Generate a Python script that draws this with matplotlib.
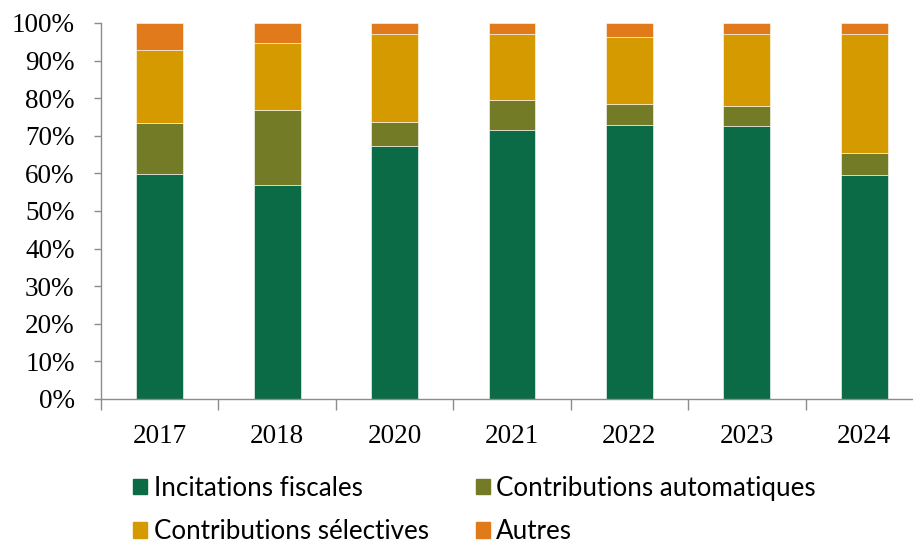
import numpy as np
import matplotlib.pyplot as plt
from matplotlib.patches import Patch
from matplotlib.ticker import FixedLocator, PercentFormatter

# Parts of total (%)
years = ["2017", "2018", "2020", "2021", "2022", "2023", "2024"]
incitations = [59.8, 56.8, 67.2, 71.6, 73.0, 72.5, 59.5]
contrib_auto = [13.5, 20.0, 6.4, 7.8, 5.4, 5.5, 5.8]
contrib_select = [19.5, 17.8, 23.5, 17.6, 18.0, 19.0, 31.7]
autres = [7.2, 5.4, 2.9, 3.0, 3.6, 3.0, 3.0]

labels = ["Incitations fiscales", "Contributions automatiques",
          "Contributions sélectives", "Autres"]
colors = ["#0b6b47", "#737b27", "#d49a00", "#e07a1b"]
series = [incitations, contrib_auto, contrib_select, autres]


def main():
    fig = plt.figure(figsize=(9.13, 5.45), dpi=100)
    ax = fig.add_axes([101 / 913, 146 / 545, 822 / 913, 376 / 545])

    x = np.arange(len(years))
    bottom = np.zeros(len(years))
    for values, color in zip(series, colors):
        ax.bar(x, values, width=0.4, bottom=bottom, color=color,
               edgecolor="white", linewidth=0.4)
        bottom += np.array(values)

    ax.set_xlim(-0.5, len(years) - 0.5)
    ax.set_ylim(0, 100)

    serif = "Liberation Serif"
    ax.set_yticks(np.arange(0, 101, 10))
    ax.yaxis.set_major_formatter(PercentFormatter(decimals=0))
    ax.tick_params(axis="y", length=5, width=1, color="#8c8c8c", pad=14,
                   labelsize=19.5)

    # boundaries carry the tick marks, centres carry the labels
    ax.xaxis.set_major_locator(FixedLocator(np.arange(-0.5, len(years), 1)))
    ax.xaxis.set_major_formatter(plt.NullFormatter())
    ax.xaxis.set_minor_locator(FixedLocator(x))
    ax.set_xticklabels(years, minor=True)
    ax.tick_params(axis="x", which="major", length=8, width=1,
                   color="#8c8c8c")
    ax.tick_params(axis="x", which="minor", length=0, pad=18, labelsize=19.5)

    for label in ax.get_yticklabels() + ax.get_xticklabels(minor=True):
        label.set_fontfamily(serif)

    for side in ["top", "right"]:
        ax.spines[side].set_visible(False)
    for side in ["left", "bottom"]:
        ax.spines[side].set_color("#8c8c8c")
        ax.spines[side].set_linewidth(1)

    # legend laid out row by row, two columns
    handles = [Patch(color=c) for c in colors]
    order = [0, 2, 1, 3]
    fig.legend([handles[i] for i in order], [labels[i] for i in order],
               ncol=2, loc="upper left", bbox_to_anchor=(133 / 913, 0.127),
               frameon=False, prop={"family": "Lato", "size": 18.7},
               borderpad=0, borderaxespad=0,
               handlelength=0.55, handleheight=0.55, handletextpad=0.25,
               columnspacing=1.8, labelspacing=0.72)

    fig.savefig("out.png", dpi=100)


if __name__ == "__main__":
    main()
